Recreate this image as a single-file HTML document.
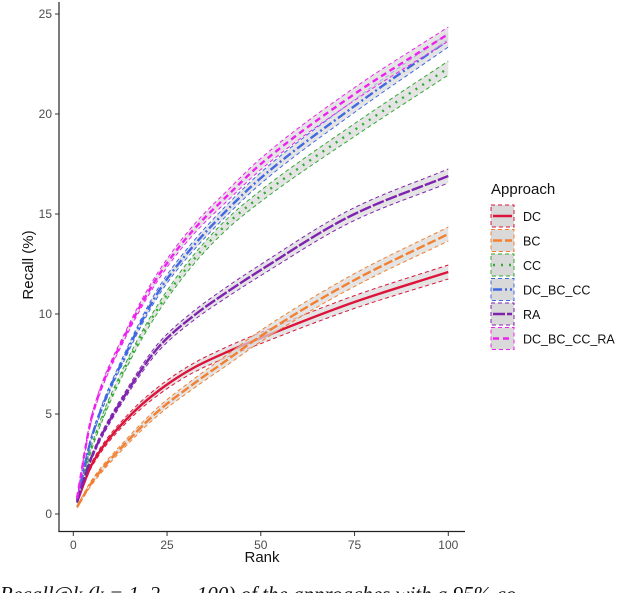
<!DOCTYPE html>
<html><head><meta charset="utf-8"><style>
body{margin:0;background:#fff;}
svg{display:block;font-family:"Liberation Sans",sans-serif;}
</style></head><body>
<svg width="640" height="593" viewBox="0 0 640 593">
<g id="plot"></g>
<g id="axes"></g>
<g id="legend"></g>
<text x="0" y="601" font-family="Liberation Serif" font-style="italic" font-size="21" fill="#111">Recall@k (k = 1, 2, ..., 100) of the approaches with a 95% co</text>
</svg>
<script>
const ranks = [1, 5, 14, 23, 32, 41, 50, 75, 100];
const seriesNames = ["DC","BC","CC","DC_BC_CC","RA","DC_BC_CC_RA"];
const dcValues = [0.6, 2.5, 4.7, 6.2, 7.3, 8.1, 8.8, 10.6, 12.1];
const bcValues = [0.35, 1.6, 3.55, 5.2, 6.5, 7.7, 8.9, 11.7, 14.0];
const ccValues = [0.6, 3.4, 7.4, 10.4, 12.7, 14.5, 15.9, 19.2, 22.3];
const dcbcccValues = [0.7, 3.9, 8.0, 11.2, 13.4, 15.2, 16.8, 20.4, 23.7];
const raValues = [0.6, 2.9, 6.0, 8.4, 9.9, 11.1, 12.2, 15.0, 16.9];
const allValues = [0.8, 4.9, 9.0, 12.0, 14.2, 15.9, 17.5, 21.0, 24.0];
const ciHalf = [0.05, 0.12, 0.16, 0.2, 0.23, 0.26, 0.28, 0.32, 0.35];
const xTicks = [0, 25, 50, 75, 100];
const yTicks = [0, 5, 10, 15, 20, 25];

const colors = ["#dc143c","#f28030","#33aa33","#4169e1","#8022b0","#ee22ee"];
const dashes = ["", "9,3", "2,6", "9,3,2,3", "12,2", "6,4"];
const vals = [dcValues, bcValues, ccValues, dcbcccValues, raValues, allValues];
const NS = "http://www.w3.org/2000/svg";
const X = v => 73.3 + v * 3.75;
const Y = v => 514 - v * 20;

function smooth(pts){
  const n = pts.length, dx = [], m = [], t = [];
  for (let i = 0; i < n-1; i++){ dx.push(pts[i+1][0]-pts[i][0]); m.push((pts[i+1][1]-pts[i][1])/dx[i]); }
  t[0] = m[0]; t[n-1] = m[n-2];
  for (let i = 1; i < n-1; i++){
    if (m[i-1]*m[i] <= 0) t[i] = 0;
    else { const w1 = 2*dx[i]+dx[i-1], w2 = dx[i]+2*dx[i-1]; t[i] = (w1+w2)/(w1/m[i-1]+w2/m[i]); }
  }
  let d = "M" + pts[0][0] + "," + pts[0][1];
  for (let i = 0; i < n-1; i++){
    const h = dx[i]/3;
    d += "C" + (pts[i][0]+h) + "," + (pts[i][1]+t[i]*h) + " " + (pts[i+1][0]-h) + "," + (pts[i+1][1]-t[i+1]*h) + " " + pts[i+1][0] + "," + pts[i+1][1];
  }
  return d;
}
function mk(tag, attrs, parent){
  const e = document.createElementNS(NS, tag);
  for (const k in attrs) e.setAttribute(k, attrs[k]);
  parent.appendChild(e); return e;
}
function rev(pts){ return smooth(pts.slice().reverse()); }
const plot = document.getElementById("plot");
vals.forEach((v, s) => {
  const up = ranks.map((r,i) => [X(r), Y(v[i] + ciHalf[i])]);
  const lo = ranks.map((r,i) => [X(r), Y(v[i] - ciHalf[i])]);
  const mid = ranks.map((r,i) => [X(r), Y(v[i])]);
  const rib = mk("path", {d: smooth(up) + "L" + rev(lo).slice(1) + "Z", fill: "#d9d9d9", "fill-opacity": 0.7}, plot);
  
  
  [up, lo].forEach((p, j) => {
    const b = mk("path", {d: smooth(p), fill: "none", stroke: colors[s], "stroke-width": 1, "stroke-dasharray": "4,3"}, plot);
    
    
  });
  const ln = mk("path", {d: smooth(mid), fill: "none", stroke: colors[s], "stroke-width": 2.4, "stroke-dasharray": dashes[s]}, plot);
  
  
});

const axes = document.getElementById("axes");
mk("line", {x1: 59, y1: 2, x2: 59, y2: 532, stroke: "#222", "stroke-width": 1.2}, axes);
mk("line", {x1: 58.4, y1: 531.5, x2: 465, y2: 531.5, stroke: "#222", "stroke-width": 1.2}, axes);
xTicks.forEach(t => {
  const tk = mk("line", {x1: X(t), y1: 532, x2: X(t), y2: 536, stroke: "#333"}, axes);
  
  const lb = mk("text", {x: X(t), y: 549, "text-anchor": "middle", "font-size": 12, fill: "#4d4d4d"}, axes);
  lb.textContent = t;
  
  
});
yTicks.forEach(t => {
  const tk = mk("line", {x1: 55, y1: Y(t), x2: 59, y2: Y(t), stroke: "#333"}, axes);
  
  const lb = mk("text", {x: 52, y: Y(t) + 4, "text-anchor": "end", "font-size": 12, fill: "#4d4d4d"}, axes);
  lb.textContent = t;
  
  
});
const xt = mk("text", {x: 262, y: 562, "text-anchor": "middle", "font-size": 15, fill: "#111"}, axes);
xt.textContent = "Rank";

const yt = mk("text", {x: 0, y: 0, transform: "translate(33,265) rotate(-90)", "text-anchor": "middle", "font-size": 15, fill: "#111"}, axes);
yt.textContent = "Recall (%)";


const lg = document.getElementById("legend");
const ttl = mk("text", {x: 491, y: 194, "font-size": 15, fill: "#111"}, lg);
ttl.textContent = "Approach";

seriesNames.forEach((n, i) => {
  const y0 = 205 + i * 24.5;
  const g = mk("g", {}, lg);
  
  
  mk("rect", {x: 491, y: y0, width: 23, height: 22, fill: "#d9d9d9", stroke: colors[i], "stroke-dasharray": "4,3", "stroke-width": 1}, g);
  mk("line", {x1: 493, y1: y0 + 11, x2: 512, y2: y0 + 11, stroke: colors[i], "stroke-width": 2.4, "stroke-dasharray": dashes[i]}, g);
  const t = mk("text", {x: 523, y: y0 + 16, "font-size": 12.5, fill: "#111"}, g);
  t.textContent = n;
});
</script>
</body></html>
